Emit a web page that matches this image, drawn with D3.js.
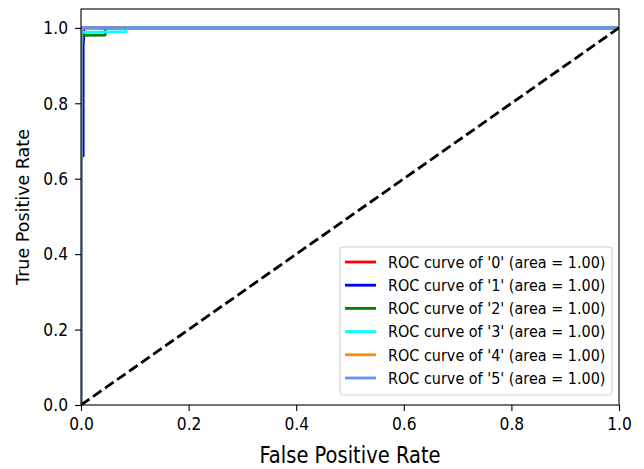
<!DOCTYPE html>
<html><head><meta charset="utf-8">
<script src="https://cdn.jsdelivr.net/npm/d3@7/dist/d3.min.js"></script>
<style>body{margin:0;background:#fff}svg{display:block}text{font-family:"DejaVu Sans",sans-serif}</style>
</head><body>
<script>
const classLabels = ["0","1","2","3","4","5"];
const colors = ["red","blue","green","cyan","darkorange","cornflowerblue"];
const areas = [1.00,1.00,1.00,1.00,1.00,1.00];
// ROC curve points (fpr, tpr) per class
const roc0 = [[0,0],[0,0.98],[0.002,0.99],[0.002,1],[1,1]];
const roc1 = [[0,0],[0,0.66],[0.004,0.66],[0.004,0.955],[0.005,0.97],[0.005,1],[1,1]];
const roc2 = [[0,0],[0,0.95],[0.003,0.965],[0.003,0.98],[0.045,0.981],[0.045,1],[1,1]];
const roc3 = [[0,0],[0,0.985],[0.002,0.988],[0.084,0.99],[0.084,1],[1,1]];
const roc4 = [[0,0],[0,0.99],[0.003,0.995],[0.003,1],[1,1]];
const roc5 = [[0,0],[0,0.998],[0.001,1],[1,1]];
const rocs = [roc0,roc1,roc2,roc3,roc4,roc5];
const diag = [[0,0],[1,1]];
const xTicks = [0,0.2,0.4,0.6,0.8,1.0];
const yTicks = [0,0.2,0.4,0.6,0.8,1.0];

const W=644,H=469;
const m={l:81,r:25,t:9,b:64};
const S=1.15; // vertical text stretch
const svg=d3.select("body").append("svg").attr("width",W).attr("height",H);
const x=d3.scaleLinear().domain([0,1]).range([m.l,W-m.r]);
const y=d3.scaleLinear().domain([0,1.05]).range([H-m.b,m.t]);
const line=d3.line().x(d=>x(d[0])).y(d=>y(d[1]));

function stretch(sel){
  sel.each(function(){
    const t=d3.select(this);
    const tx=+t.attr("x")||0, ty=+t.attr("y")||0;
    t.attr("x",0).attr("y",0).attr("transform",`translate(${tx},${ty}) scale(1,${S})`);
  });
}

svg.append("clipPath").attr("id","clip").append("rect")
  .attr("x",m.l).attr("y",m.t).attr("width",W-m.l-m.r).attr("height",H-m.t-m.b);
const g=svg.append("g").attr("clip-path","url(#clip)");
rocs.forEach((r,i)=>{
  g.append("path").datum(r).attr("d",line).attr("fill","none")
   .attr("stroke",colors[i]).attr("stroke-width",i===5?3.3:2.8).attr("stroke-linejoin","round").attr("stroke-linecap","butt");
});
g.append("path").datum(diag).attr("d",line).attr("fill","none")
 .attr("stroke","black").attr("stroke-width",2.8).attr("stroke-dasharray","10.3,4.4");

const xa=svg.append("g").attr("transform",`translate(0,${H-m.b})`)
  .call(d3.axisBottom(x).tickValues(xTicks).tickFormat(d3.format(".1f")).tickSize(6).tickPadding(6));
const ya=svg.append("g").attr("transform",`translate(${m.l},0)`)
  .call(d3.axisLeft(y).tickValues(yTicks).tickFormat(d3.format(".1f")).tickSize(6).tickPadding(7));
[xa,ya].forEach(a=>{a.select(".domain").remove();a.selectAll("text").attr("font-size",15.5).attr("fill","#000");a.selectAll("line").attr("stroke","#000").attr("stroke-width",1.1);stretch(a.selectAll("text"));});

svg.append("rect").attr("x",m.l).attr("y",m.t).attr("width",W-m.l-m.r).attr("height",H-m.t-m.b)
  .attr("fill","none").attr("stroke","#000").attr("stroke-width",1.1);

stretch(svg.append("text").attr("x",(m.l+W-m.r)/2).attr("y",463).attr("text-anchor","middle")
  .attr("font-size",19.5).text("False Positive Rate"));
svg.append("text").attr("transform",`translate(28.5,${(m.t+H-m.b)/2}) rotate(-90)`).attr("text-anchor","middle")
  .attr("font-size",17.5).text("True Positive Rate");

// legend
const lg=svg.append("g");
lg.append("rect").attr("x",340).attr("y",247).attr("width",272).attr("height",148).attr("rx",3)
  .attr("fill","white").attr("fill-opacity",0.8).attr("stroke","#ccc").attr("stroke-width",1);
classLabels.forEach((c,i)=>{
  const yy=262+i*23.2;
  lg.append("line").attr("x1",345).attr("x2",376).attr("y1",yy).attr("y2",yy)
    .attr("stroke",colors[i]).attr("stroke-width",2.8);
  stretch(lg.append("text").attr("x",388).attr("y",yy).attr("dy","0.35em").attr("font-size",14.4)
    .text(`ROC curve of '${c}' (area = ${areas[i].toFixed(2)})`));
});
</script>
</body></html>
